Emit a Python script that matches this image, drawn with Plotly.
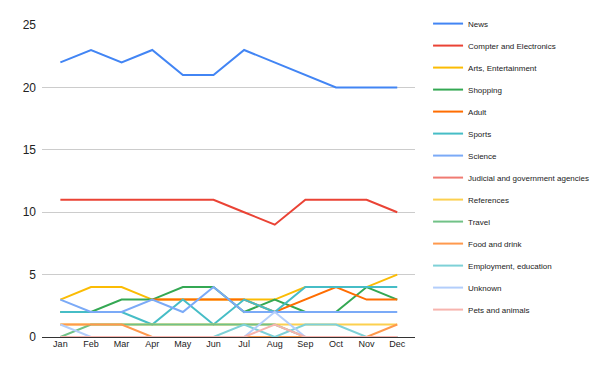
import plotly.graph_objects as go

months = ["Jan", "Feb", "Mar", "Apr", "May", "Jun", "Jul", "Aug", "Sep", "Oct", "Nov", "Dec"]

news = [22, 23, 22, 23, 21, 21, 23, 22, 21, 20, 20, 20]
computer = [11, 11, 11, 11, 11, 11, 10, 9, 11, 11, 11, 10]
arts = [3, 4, 4, 3, 3, 3, 3, 3, 4, 4, 4, 5]
shopping = [2, 2, 3, 3, 4, 4, 2, 3, 2, 2, 4, 3]
adult = [None, None, None, 3, 3, 3, 3, 2, 3, 4, 3, 3]
sports = [2, 2, 2, 1, 3, 1, 3, 2, 4, 4, 4, 4]
science = [3, 2, 2, 3, 2, 4, 2, 2, 2, 2, 2, 2]
judicial = [0, 0, 0, 0, 0, 0, 0, 0, 0, 0, 0, 0]
references = [1, 1, 1, 1, 1, 1, 1, 1, 1, 1, 1, 1]
travel = [0, 1, 1, 1, 1, 1, 1, 1, 0, 0, 0, 0]
food = [1, 1, 1, 0, 0, 0, 0, 0, 0, 0, 0, 1]
employment = [0, 0, 0, 0, 0, 0, 1, 0, 1, 1, 0, 0]
unknown = [1, 0, 0, 0, 0, 0, 0, 2, 0, 0, 0, 0]
pets = [0, 0, 0, 0, 0, 0, 0, 1, 0, 0, 0, 0]

series_names = ["News", "Compter and Electronics", "Arts, Entertainment", "Shopping", "Adult",
                "Sports", "Science", "Judicial and government agencies", "References", "Travel",
                "Food and drink", "Employment, education", "Unknown", "Pets and animals"]
series_values = [news, computer, arts, shopping, adult, sports, science, judicial, references,
                 travel, food, employment, unknown, pets]
colors = ["#4285f4", "#ea4335", "#fbbc04", "#34a853", "#ff6d01", "#46bdc6", "#7baaf7",
          "#f07b72", "#fcd04f", "#71c287", "#ff994d", "#7ed1d7", "#b3cefb", "#f7b4ae"]

fig = go.Figure()
for i, (name, vals, col) in enumerate(zip(series_names, series_values, colors)):
    fig.add_trace(go.Scatter(
        x=months, y=vals, name=name, mode="lines",
        line=dict(color=col, width=2),
        legendgroup=f"g{i}",
        hoverinfo="skip",
    ))

fig.update_layout(
    width=600, height=371,
    margin=dict(l=42, r=185, t=25, b=34, autoexpand=False),
    paper_bgcolor="white", plot_bgcolor="white",
    font=dict(family="Liberation Sans, Arial, sans-serif", color="#222222"),
    showlegend=True,
    legend=dict(
        x=1.035, xanchor="left", y=1.051, yanchor="top",
        font=dict(size=8, color="#222222"),
        tracegroupgap=3,
        itemwidth=30,
        maxheight=1,
        bgcolor="rgba(0,0,0,0)",
    ),
    xaxis=dict(
        type="category", range=[-0.6, 11.58],
        showgrid=False, showline=False, zeroline=False,
        ticks="", tickfont=dict(size=9, color="#222222"),
    ),
    yaxis=dict(
        range=[0, 25], tickvals=[0, 5, 10, 15, 20, 25],
        showgrid=True, gridcolor="#cccccc", gridwidth=1,
        zeroline=True, zerolinecolor="#333333", zerolinewidth=1,
        showline=False, ticks="", tickfont=dict(size=12, color="#222222"),
        ticklabelstandoff=5,
    ),
)

fig.write_html("out.html", config={"displayModeBar": False},
               post_script="document.body.style.margin='0';document.body.style.padding='0';")
